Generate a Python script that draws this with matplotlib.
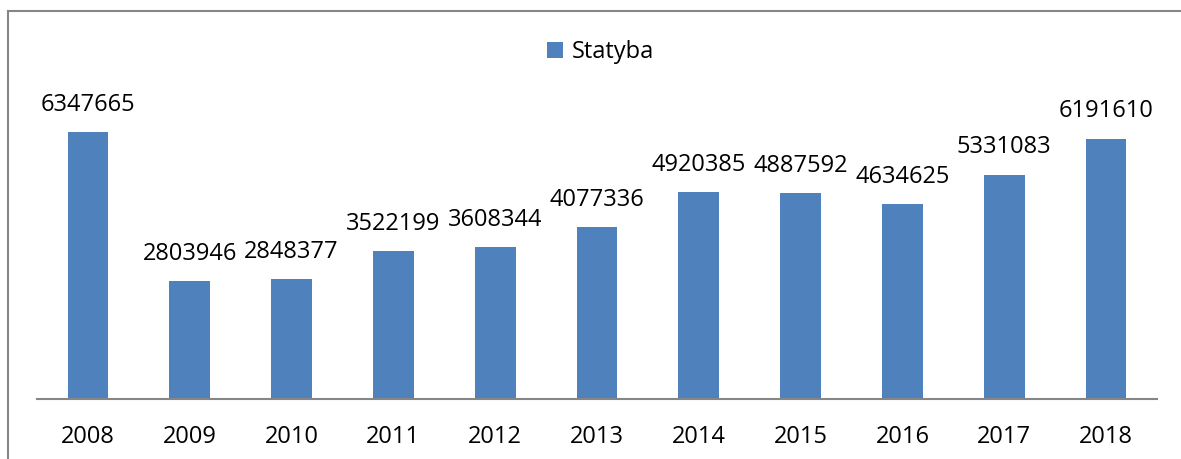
import matplotlib
matplotlib.use("Agg")
import matplotlib.pyplot as plt
from matplotlib.lines import Line2D

years = ["2008", "2009", "2010", "2011", "2012", "2013", "2014", "2015", "2016", "2017", "2018"]
statyba = [6347665, 2803946, 2848377, 3522199, 3608344, 4077336, 4920385, 4887592, 4634625, 5331083, 6191610]

plt.rcParams["font.family"] = ["Open Sans", "DejaVu Sans"]

W, H = 1181, 459
fig = plt.figure(figsize=(W / 100, H / 100), dpi=100)
ax = fig.add_axes([37 / W, (H - 399) / H, (1157 - 37) / W, (399 - 104.5) / H])

x = list(range(len(years)))
bars = ax.bar(x, statyba, width=0.4, color="#4F81BD", label="Statyba")
ax.set_xlim(-0.5, len(years) - 0.5)
ax.set_ylim(0, 7000000)

for xi, v in zip(x, statyba):
    ax.annotate(f"{v}", (xi, v), xytext=(0, 11), textcoords="offset points",
                ha="center", va="bottom", fontsize=17, color="black")

ax.set_xticks(x)
ax.set_xticklabels(years, fontsize=17)
ax.tick_params(axis="x", length=0, pad=19)
ax.set_yticks([])
for s in ["top", "right", "left"]:
    ax.spines[s].set_visible(False)
ax.spines["bottom"].set_color("#868686")
ax.spines["bottom"].set_linewidth(1.5)

fig.legend(handles=[bars], labels=["Statyba"], loc="center", bbox_to_anchor=(601 / W, 1 - 52 / H),
           frameon=False, fontsize=17, handlelength=0.65, handleheight=0.65, handletextpad=0.4)

# chart frame
fig.add_artist(Line2D([8 / W, 8 / W], [0, 1 - 11 / H], transform=fig.transFigure, color="#868686", lw=1.5))
fig.add_artist(Line2D([8 / W, 1], [1 - 11 / H, 1 - 11 / H], transform=fig.transFigure, color="#868686", lw=1.5))

fig.savefig("out.png", dpi=100)
plt.close(fig)
